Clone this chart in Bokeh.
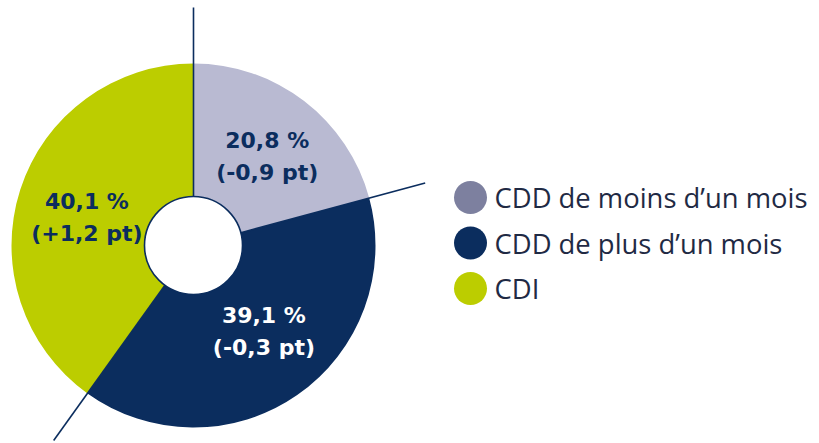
import math
from bokeh.plotting import figure
from bokeh.models import Range1d, ColumnDataSource
from bokeh.core.properties import value
from bokeh.embed import file_html
from bokeh.resources import INLINE

# ---- data ----
categories = ["CDD de moins d\u2019un mois", "CDD de plus d\u2019un mois", "CDI"]
shares = [20.8, 39.1, 40.1]
changes = ["-0,9", "-0,3", "+1,2"]

# ---- styles ----
slice_colors = ["#b9bad2", "#0b2d5e", "#bccd00"]
legend_colors = ["#7d809f", "#0b2d5e", "#bccd00"]
label_colors = ["#0b2d5e", "#ffffff", "#0b2d5e"]
label_nudge_x = [5, 6, 1]
label_nudge_y = [-1, 7, -7]
navy = "#0b2d5e"

W, H = 819, 443
p = figure(width=W, height=H, output_backend="svg", toolbar_location=None,
           x_range=Range1d(-193, -193 + W), y_range=Range1d(245 - H, 245),
           min_border=0, outline_line_color=None)
p.axis.visible = False
p.grid.visible = False
p.background_fill_color = "white"
p.border_fill_color = "white"

R_OUT, R_IN, R_LINE, R_LAB = 182, 49, 240, 113

total = sum(shares)
starts, ends, mids = [], [], []
acc = 0.0
for s in shares:
    a0 = math.pi / 2 - 2 * math.pi * acc / total
    acc += s
    a1 = math.pi / 2 - 2 * math.pi * acc / total
    starts.append(a0)
    ends.append(a1)
    mids.append((a0 + a1) / 2)

src = ColumnDataSource(dict(start=starts, end=ends, color=slice_colors))
p.annular_wedge(x=0, y=0, inner_radius=R_IN, outer_radius=R_OUT,
                start_angle="start", end_angle="end", direction="clock",
                fill_color="color", line_color=None, source=src)

# separator lines
x0 = [R_IN * math.cos(a) for a in starts]
y0 = [R_IN * math.sin(a) for a in starts]
x1 = [R_LINE * math.cos(a) for a in starts]
y1 = [R_LINE * math.sin(a) for a in starts]
x1[0] = 0
y1[0] = 238
p.segment(x0=x0, y0=y0, x1=x1, y1=y1, line_color=navy, line_width=1.6)

# hole border
p.circle(x=[0], y=[0], radius=R_IN, fill_color="white", line_color=navy, line_width=1.6)

# labels
fmt = lambda v: ("%.1f" % v).replace(".", ",")
lx = [R_LAB * math.cos(a) + dx for a, dx in zip(mids, label_nudge_x)]
ly = [R_LAB * math.sin(a) + dy for a, dy in zip(mids, label_nudge_y)]
p.text(x=lx, y=[y + 16 for y in ly], text=[fmt(s) + " %" for s in shares],
       text_color=label_colors, text_font=value("DejaVu Sans"), text_font_style="bold",
       text_font_size="22px", text_align="center", text_baseline="middle")
p.text(x=lx, y=[y - 16 for y in ly], text=["(" + c + " pt)" for c in changes],
       text_color=label_colors, text_font=value("DejaVu Sans"), text_font_style="bold",
       text_font_size="22px", text_align="center", text_baseline="middle")

# legend
leg_y = [48 - 45.5 * i for i in range(len(categories))]
p.scatter(x=[277] * len(categories), y=leg_y, size=33, marker="circle",
          fill_color=legend_colors, line_color=None)
p.text(x=[301] * len(categories), y=leg_y, text=categories,
       text_color="#1f2a44", text_font=value("Open Sans"), text_font_size="27.4px",
       text_align="left", text_baseline="middle")

open("out.html", "w").write(file_html(p, INLINE))
